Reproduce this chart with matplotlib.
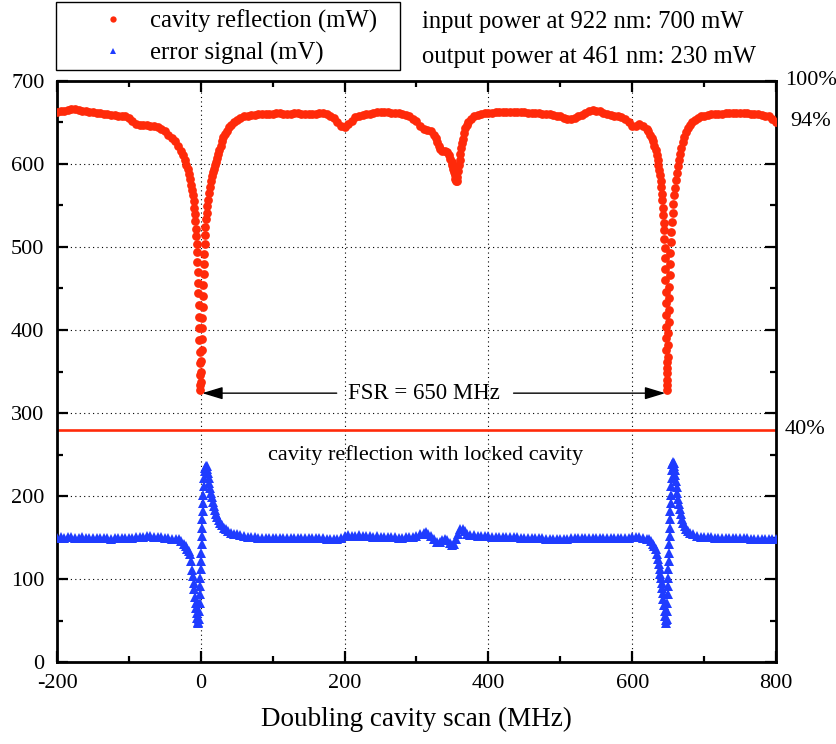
import matplotlib
matplotlib.use("Agg")
import matplotlib.pyplot as plt
from matplotlib.patches import Rectangle
from matplotlib.ticker import MultipleLocator

plt.rcParams['font.family'] = ['Liberation Serif', 'DejaVu Serif']
plt.rcParams['axes.unicode_minus'] = False

RED = '#ff2a0a'
BLUE = '#1f3cff'

# Cavity reflection while scanning the doubling cavity: (scan frequency in MHz, power in mW)
reflection_flat_left = [
    (-200, 662), (-195, 663), (-190, 664), (-185, 665), (-180, 666), (-175, 666), (-170, 665), (-165, 664),
    (-160, 663), (-155, 662), (-150, 662), (-145, 661), (-140, 661), (-135, 660), (-130, 660), (-125, 659),
    (-120, 659), (-115, 658), (-110, 658), (-105, 657), (-100, 655), (-95, 651), (-90, 648), (-85, 647),
    (-80, 647), (-75, 647), (-70, 646), (-65, 645), (-60, 644), (-55, 642), (-50, 639), (-45, 635),
]
reflection_dip_first = [
    (-40, 631), (-36, 627), (-32, 622), (-28, 616), (-25, 610), (-22, 604), (-20, 599), (-18, 594),
    (-16, 588), (-14.5, 582), (-13, 575), (-12, 569), (-11, 562), (-10, 555), (-9, 547), (-8.2, 539),
    (-7.5, 531), (-6.8, 522), (-6.2, 513), (-5.6, 504), (-5.1, 494), (-4.6, 482), (-4.2, 470), (-3.8, 457),
    (-3.4, 444), (-3.0, 430), (-2.6, 416), (-2.3, 402), (-2.0, 388), (-1.7, 374), (-1.4, 360), (-1.1, 346),
    (-0.8, 334), (-0.5, 328),
    (-0.2, 338), (0.2, 350), (0.6, 363), (1.0, 376), (1.4, 389), (1.8, 402), (2.2, 415), (2.6, 428),
    (3.0, 441), (3.4, 454), (3.8, 467), (4.2, 480), (4.7, 492), (5.2, 503), (5.8, 514), (6.5, 524),
    (7.3, 533), (8.2, 541), (9.2, 549), (10.2, 557), (11.3, 565), (12.5, 572), (13.8, 579), (15.2, 585),
    (16.7, 590), (18.2, 594), (19.7, 598), (21.2, 602), (22.7, 607), (24.2, 612), (25.8, 617), (27.5, 622),
    (29.3, 627), (31.3, 632), (33.5, 636), (36, 640), (39, 644), (42, 647), (46, 650), (50, 653),
    (55, 655), (60, 657), (65, 658), (70, 659), (75, 659), (80, 660),
]
reflection_middle = [
    (85, 660), (90, 660), (95, 660), (100, 660), (105, 661), (110, 661), (115, 660), (120, 660),
    (125, 660), (130, 661), (135, 661), (140, 660), (145, 660), (150, 660), (155, 660), (160, 660),
    (165, 661), (170, 661), (175, 660), (180, 658), (185, 655), (190, 650), (195, 645), (200, 644),
    (205, 648), (210, 652), (215, 656), (220, 658), (225, 659), (230, 660), (235, 660), (240, 661),
    (245, 662), (250, 662), (255, 662), (260, 662), (265, 661), (270, 661), (275, 661), (280, 660),
    (285, 659), (290, 657), (295, 654), (300, 651), (305, 646), (310, 642), (315, 641), (320, 640),
    (325, 635), (327, 631), (329, 626), (331, 622), (333, 618), (336, 615), (339, 615), (342, 614),
    (345, 611), (347, 606), (349, 602), (350, 598), (351, 594), (352, 590), (353, 586), (354, 582),
    (355, 579), (356, 579), (357, 584), (358, 591), (359, 598), (360, 605), (361, 612), (362, 619),
    (363, 625), (364, 630), (366, 637), (368, 643), (370, 647), (372, 650), (376, 654), (380, 657),
    (385, 659), (390, 660), (395, 661), (400, 661), (405, 661), (410, 662), (415, 662), (420, 662),
    (425, 662), (430, 662), (435, 662), (440, 662), (445, 662), (450, 662), (455, 661), (460, 661),
    (465, 661), (470, 661), (475, 660), (480, 660), (485, 660), (490, 659), (495, 658), (500, 657),
    (505, 655), (510, 654), (515, 654), (520, 655), (525, 657), (530, 659), (535, 661), (540, 663),
    (545, 665), (550, 664), (555, 663), (560, 661), (565, 660), (570, 659), (575, 658), (580, 657),
    (585, 656), (590, 654), (595, 650), (600, 646), (605, 646), (610, 648), (615, 646), (620, 642),
]
reflection_dip_second = [
    (622.5, 639), (625, 635), (627, 631), (629, 627), (631, 622), (632.5, 617), (634, 611), (635.3, 605),
    (636.5, 599), (637.5, 593), (638.5, 586), (639.4, 579), (640.2, 572), (641, 564), (641.7, 556),
    (642.4, 547), (643, 538), (643.6, 529), (644.1, 520), (644.6, 510), (645.0, 499), (645.4, 487),
    (645.8, 474), (646.2, 460), (646.5, 446), (646.8, 432), (647.1, 418), (647.3, 404), (647.5, 390),
    (647.7, 376), (647.9, 362), (648.0, 348), (648.1, 334), (648.3, 328),
    (648.6, 340), (649.0, 354), (649.4, 368), (649.8, 382), (650.2, 396), (650.6, 410), (651.0, 424),
    (651.4, 438), (651.8, 452), (652.2, 466), (652.7, 480), (653.2, 493), (653.8, 506), (654.5, 518),
    (655.3, 530), (656.2, 541), (657.2, 552), (658.2, 562), (659.3, 571), (660.5, 580), (661.8, 589),
    (663.2, 597), (664.7, 605), (666.3, 612), (668, 619), (670, 626), (672, 632), (674.5, 638),
    (677, 643), (680, 647), (683, 650), (687, 653), (691, 655), (695, 657), (700, 658),
]
reflection_flat_right = [
    (705, 659), (710, 660), (715, 660), (720, 660), (725, 660), (730, 661), (735, 661), (740, 661),
    (745, 661), (750, 661), (755, 661), (760, 661), (765, 660), (770, 660), (775, 660), (780, 659),
    (785, 658), (790, 657), (795, 654), (800, 650),
]

# Error signal of the lock: (scan frequency in MHz, signal in mV)
error_flat_left = [
    (-200, 150), (-195, 151), (-190, 150), (-185, 151), (-180, 151), (-175, 150), (-170, 150), (-165, 151),
    (-160, 150), (-155, 150), (-150, 150), (-145, 150), (-140, 150), (-135, 150), (-130, 150), (-125, 149),
    (-120, 150), (-115, 150), (-110, 150), (-105, 150), (-100, 150), (-95, 150), (-90, 151), (-85, 151),
    (-80, 151), (-75, 152), (-70, 152), (-65, 151), (-60, 151), (-55, 151), (-50, 150), (-45, 150),
    (-40, 149), (-35, 149),
]
error_first = [
    (-30, 148), (-27, 146), (-24, 143), (-21, 140), (-19, 137), (-17, 134), (-15, 131), (-13.5, 122),
    (-12, 111), (-11, 104), (-10, 96), (-9, 88), (-8, 79), (-7.2, 72), (-6.4, 65), (-5.6, 59),
    (-4.8, 53), (-4.0, 49), (-3.3, 47),
    (-2.6, 52), (-2.2, 62), (-1.8, 72), (-1.4, 82), (-1.0, 92), (-0.6, 102), (-0.2, 112), (0.2, 122),
    (0.6, 132), (1.0, 142), (1.4, 152), (1.8, 162), (2.2, 172), (2.6, 182), (3.0, 192), (3.4, 202),
    (3.9, 212), (4.5, 222), (5.2, 230), (6.0, 234), (7.0, 236), (8.0, 236), (9.0, 233), (10, 228),
    (11, 222), (12, 216), (13, 210), (14, 204), (15, 199), (16.5, 193), (18, 188), (19.5, 183),
    (21, 179), (23, 175), (25, 171), (27, 168), (29.5, 165), (32, 162), (35, 160), (38, 158),
    (42, 156), (46, 155), (50, 154), (55, 153), (60, 152),
]
error_middle = [
    (65, 151), (70, 151), (75, 151), (80, 150), (85, 150), (90, 150), (95, 150), (100, 150),
    (105, 150), (110, 150), (115, 150), (120, 150), (125, 150), (130, 150), (135, 150), (140, 150),
    (145, 150), (150, 150), (155, 150), (160, 150), (165, 150), (170, 150), (175, 149), (180, 149),
    (185, 148), (190, 149), (195, 150), (200, 152), (205, 153), (210, 152), (215, 152), (220, 153),
    (225, 152), (230, 152), (235, 152), (240, 151), (245, 152), (250, 151), (255, 151), (260, 151),
    (265, 151), (270, 151), (275, 150), (280, 150), (285, 151), (290, 151), (295, 151), (300, 152),
    (305, 154), (310, 156), (313, 157), (316, 155), (320, 152), (324, 148), (328, 145), (332, 145),
    (336, 147), (340, 149), (343, 147), (346, 144), (349, 141), (352, 142), (355, 148), (358, 155),
    (361, 160), (364, 161), (367, 158), (370, 155), (375, 153), (380, 153), (385, 152), (390, 152),
    (395, 152), (400, 152), (405, 151), (410, 151), (415, 151), (420, 151), (425, 151), (430, 151),
    (435, 151), (440, 151), (445, 150), (450, 150), (455, 150), (460, 150), (465, 150), (470, 150),
    (475, 150), (480, 149), (485, 149), (490, 149), (495, 149), (500, 149), (505, 149), (510, 149),
    (515, 150), (520, 150), (525, 150), (530, 150), (535, 150), (540, 150), (545, 150), (550, 150),
    (555, 150), (560, 150), (565, 150), (570, 150), (575, 150), (580, 150), (585, 150), (590, 150),
    (595, 150), (600, 151), (605, 151), (610, 151), (615, 150), (620, 149),
]
error_second = [
    (623, 148), (626, 146), (629, 143), (631, 140), (633, 136), (634.5, 131), (636, 125), (637.2, 119),
    (638.3, 112), (639.3, 106), (640.2, 101), (641, 95), (641.8, 89), (642.6, 83), (643.4, 76),
    (644.2, 69), (645, 62), (645.8, 56), (646.6, 51), (647.4, 47),
    (648, 52), (648.4, 62), (648.8, 72), (649.2, 82), (649.6, 92), (650.0, 102), (650.4, 112),
    (650.8, 122), (651.2, 132), (651.6, 142), (652.0, 152), (652.4, 162), (652.8, 172), (653.2, 182),
    (653.6, 192), (654.0, 202), (654.4, 212), (654.9, 222), (655.4, 232), (656, 239), (656.8, 241),
    (657.6, 240), (658.4, 236), (659.2, 231), (660, 225), (661, 218), (662, 211), (663, 204),
    (664, 197), (665, 191), (666.5, 184), (668, 178), (669.5, 173), (671, 168), (673, 164),
    (675, 161), (678, 158), (681, 156), (685, 154), (690, 152), (695, 151), (700, 151),
]
error_flat_right = [
    (705, 151), (710, 151), (715, 150), (720, 150), (725, 150), (730, 150), (735, 150), (740, 150),
    (745, 150), (750, 150), (755, 150), (760, 150), (765, 149), (770, 149), (775, 149), (780, 149),
    (785, 149), (790, 149), (795, 148), (800, 148),
]

locked_reflection = 280          # mW, reflection with the cavity locked
fsr_mhz = 650
percent_levels = [700, 651, 280]
percent_labels = ['100%', '94%', '40%']
percent_offsets = [0.012, 0.020, 0.012]

series_labels = ['cavity reflection (mW)', 'error signal (mV)']
power_notes = ['input power at 922 nm: 700 mW', 'output power at 461 nm: 230 mW']


def unzip(*segments):
    pts = [p for seg in segments for p in seg]
    return [p[0] for p in pts], [p[1] for p in pts]


refl_x, refl_y = unzip(reflection_flat_left, reflection_dip_first, reflection_middle,
                       reflection_dip_second, reflection_flat_right)
err_x, err_y = unzip(error_flat_left, error_first, error_middle, error_second, error_flat_right)

W, H = 837, 744
fig = plt.figure(figsize=(W / 100, H / 100), dpi=100)
ax = fig.add_axes([57 / W, 1 - 662.4 / H, 719 / W, 581.7 / H])

ax.plot(refl_x, refl_y, linestyle='none', marker='o', ms=6.3, mew=0, color=RED,
        label=series_labels[0], zorder=3)
ax.plot(err_x, err_y, linestyle='none', marker='^', ms=6.8, mew=0, color=BLUE,
        label=series_labels[1], zorder=3)
ax.axhline(locked_reflection, color=RED, lw=1.9, zorder=2)

ax.set_xlim(-200, 800)
ax.set_ylim(0, 700)
ax.xaxis.set_major_locator(MultipleLocator(200))
ax.xaxis.set_minor_locator(MultipleLocator(100))
ax.yaxis.set_major_locator(MultipleLocator(100))
ax.yaxis.set_minor_locator(MultipleLocator(50))
ax.set_axisbelow(True)
ax.grid(True, which='major', color='black', linestyle=(0, (1, 3)), lw=0.8)

for s in ax.spines.values():
    s.set_linewidth(2.0)
ax.tick_params(which='both', direction='in', top=True, right=True, labelsize=16, width=1.6)
ax.tick_params(which='major', length=8)
ax.tick_params(which='minor', length=4.5)
ax.tick_params(axis='x', pad=8)
ax.tick_params(axis='y', pad=9)

ax.set_xlabel('Doubling cavity scan (MHz)', fontsize=19.5, labelpad=10)

for lvl, lbl, off in zip(percent_levels, percent_labels, percent_offsets):
    ax.text(1 + off, lvl, lbl, transform=ax.get_yaxis_transform(), ha='left', va='center',
            fontsize=16, clip_on=False)

# FSR marker between the two reflection dips
fsr_y = 324
arrow = dict(arrowstyle='-|>,head_length=1.25,head_width=0.38', mutation_scale=10,
             lw=1.0, color='black', shrinkA=0, shrinkB=0)
ax.annotate('', xy=(2, fsr_y), xytext=(189, fsr_y), arrowprops=arrow)
ax.annotate('', xy=(fsr_mhz - 4, fsr_y), xytext=(435, fsr_y), arrowprops=arrow)
ax.text(310, fsr_y, f'FSR = {fsr_mhz} MHz', ha='center', va='center', fontsize=16.4)
ax.text(312, 249.5, 'cavity reflection with locked cavity', ha='center', va='center', fontsize=16)

# legend with a plain rectangular frame above the axes
fig.patches.append(Rectangle((56 / W, 1 - 70 / H), 344 / W, 68 / H, transform=fig.transFigure,
                             fill=False, ec='black', lw=1.0))
leg = ax.legend(loc='center left', bbox_to_anchor=(88 / W, 1 - 37 / H),
                bbox_transform=fig.transFigure, frameon=False, fontsize=17.8,
                borderpad=0, borderaxespad=0, handlelength=2.0, handletextpad=0.5,
                labelspacing=0.35, markerscale=0.72, numpoints=1)

fig.text(422 / W, 1 - 22 / H, power_notes[0], ha='left', va='center', fontsize=17.7)
fig.text(422 / W, 1 - 57 / H, power_notes[1], ha='left', va='center', fontsize=17.7)

fig.savefig('out.png', dpi=100)
